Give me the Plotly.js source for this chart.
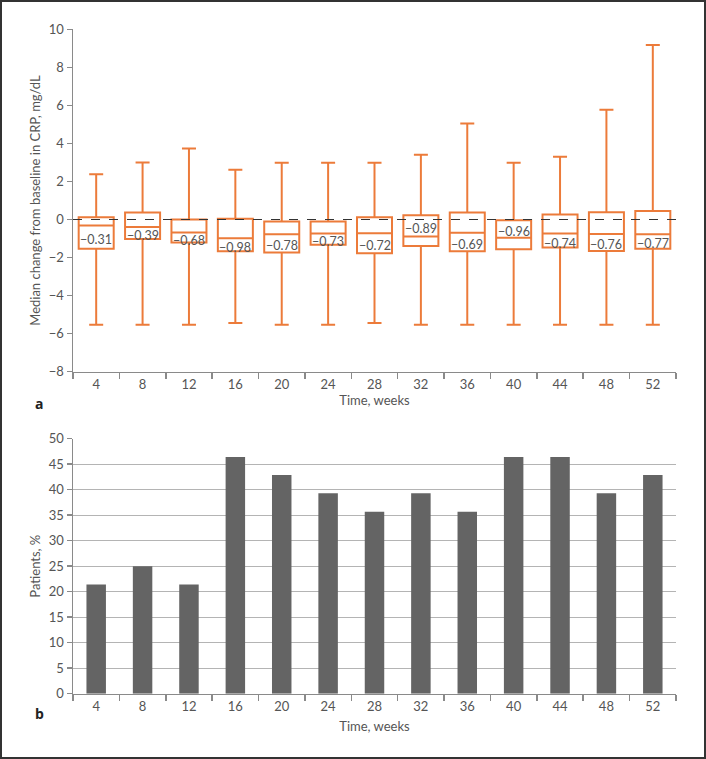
<!DOCTYPE html>
<html><head><meta charset="utf-8">
<script src="https://cdn.plot.ly/plotly-3.0.1.min.js"></script>
<style>html,body{margin:0;padding:0;background:#fff}#chart{width:706px;height:759px}</style>
</head><body><div id="chart"></div>
<script>
// ---- data ----
const weeks = ['4','8','12','16','20','24','28','32','36','40','44','48','52'];
const medians = [-0.31,-0.39,-0.68,-0.98,-0.78,-0.73,-0.72,-0.89,-0.69,-0.96,-0.74,-0.76,-0.77];
const q1 = [-1.53,-1.02,-1.21,-1.67,-1.74,-1.33,-1.77,-1.39,-1.67,-1.56,-1.47,-1.65,-1.53];
const q3 = [0.12,0.37,0.0,0.04,-0.11,-0.11,0.12,0.23,0.37,-0.04,0.26,0.38,0.45];
const whiskerLow = [-5.53,-5.53,-5.53,-5.44,-5.53,-5.53,-5.44,-5.53,-5.53,-5.53,-5.53,-5.53,-5.53];
const whiskerHigh = [2.38,3.0,3.74,2.61,2.98,2.98,2.98,3.40,5.05,2.98,3.30,5.77,9.17];
const patientsPct = [21.4,25.0,21.4,46.4,42.9,39.3,35.7,39.3,35.7,46.4,46.4,39.3,42.9];
const labelAboveMedian = ['32','40'];

// ---- styles ----
const ORANGE = '#EC7B3A';
const AXIS = '#8a8a8a';
const TXT = '#555555';
const FONT = 'Lato, Open Sans, sans-serif';

const fmt = v => (v < 0 ? '\u2212' : '') + Math.abs(v).toFixed(2);

const annotations = weeks.map((w, i) => {
  const above = labelAboveMedian.includes(w);
  const y = above ? (q3[i] + medians[i]) / 2 : (medians[i] + q1[i]) / 2;
  return {xref:'x', yref:'y', x:i, y:y, yshift:-2.5, text:fmt(medians[i]), showarrow:false,
          borderpad:0, font:{family:FONT, size:12.5, color:TXT}};
});
annotations.push({xref:'paper', yref:'paper', x:33/706, y:1-404/759, text:'<b>a</b>', showarrow:false,
  font:{family:'Open Sans, sans-serif', size:14, color:'#222'}});
annotations.push({xref:'paper', yref:'paper', x:33/706, y:1-725/759, text:'<b>b</b>', showarrow:false,
  font:{family:'Open Sans, sans-serif', size:14, color:'#222'}});

const boxTrace = {
  type:'box', x:weeks, q1:q1, median:medians, q3:q3,
  lowerfence:whiskerLow, upperfence:whiskerHigh,
  boxpoints:false, whiskerwidth:0.4,
  line:{color:ORANGE, width:2}, fillcolor:'rgba(255,255,255,0)',
  xaxis:'x', yaxis:'y', showlegend:false, hoverinfo:'skip'
};
const barTrace = {
  type:'bar', x:weeks, y:patientsPct, marker:{color:'#646464'},
  xaxis:'x2', yaxis:'y2', showlegend:false, hoverinfo:'skip'
};

const xdom = [73/706, 676/706];
const commonX = {
  type:'category', domain:xdom, range:[-0.5, weeks.length - 0.5], autorange:false,
  showline:true, linecolor:AXIS, linewidth:1.5,
  ticks:'outside', tickson:'boundaries', ticklen:6, tickcolor:AXIS, tickwidth:1.5,
  tickfont:{family:FONT, size:13, color:TXT}, showgrid:false, zeroline:false
};
const commonY = {
  showline:true, linecolor:AXIS, linewidth:1.5, ticks:'outside', ticklen:5,
  tickcolor:AXIS, tickwidth:1.5, tickfont:{family:FONT, size:13, color:TXT}, zeroline:false
};
const titleFont = {family:FONT, size:13, color:TXT};

const layout = {
  width:706, height:759, autosize:false,
  margin:{l:0, r:0, t:0, b:0},
  paper_bgcolor:'#fff', plot_bgcolor:'#fff',
  boxgap:0.245, boxgroupgap:0, bargap:0.58,
  font:{family:FONT, color:TXT},
  xaxis:Object.assign({}, commonX, {anchor:'y',
    title:{text:'Time, weeks', font:titleFont, standoff:5}}),
  yaxis:Object.assign({}, commonY, {anchor:'x', domain:[1-371.7/759, 1-29.3/759],
    range:[-8,10], tick0:0, dtick:2, showgrid:false,
    title:{text:'Median change from baseline in CRP, mg/dL', font:titleFont, standoff:5}}),
  xaxis2:Object.assign({}, commonX, {anchor:'y2',
    title:{text:'Time, weeks', font:titleFont, standoff:9}}),
  yaxis2:Object.assign({}, commonY, {anchor:'x2', domain:[1-693.7/759, 1-438.7/759],
    range:[0,50], tick0:0, dtick:5, showgrid:true, gridcolor:'#b4b4b4', gridwidth:1.3,
    title:{text:'Patients, %', font:titleFont, standoff:5}}),
  shapes:[
    {type:'line', xref:'x domain', yref:'y', x0:0, x1:1, y0:0, y1:0,
     line:{color:'#333', width:1.2, dash:'dash'}, layer:'above'},
    {type:'rect', xref:'paper', yref:'paper', x0:0, x1:1, y0:0, y1:1,
     line:{color:'#333', width:4}, layer:'above'}
  ],
  annotations:annotations
};

Plotly.newPlot('chart', [boxTrace, barTrace], layout, {staticPlot:true, displayModeBar:false});
</script></body></html>
